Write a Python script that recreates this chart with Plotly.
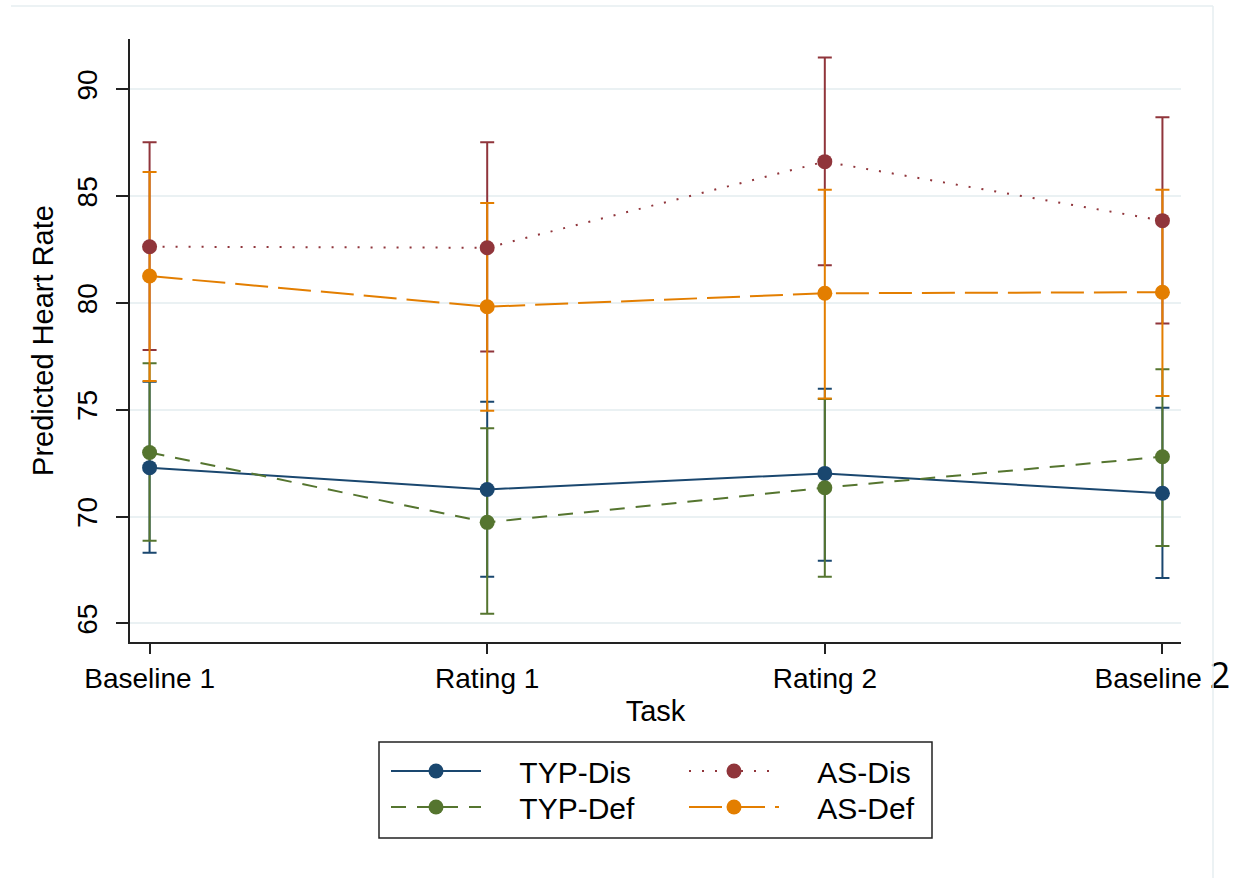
import plotly.graph_objects as go

tasks = ["Baseline 1", "Rating 1", "Rating 2", "Baseline 2"]
tick_text = ["Baseline 1", "Rating 1", "Rating 2",
             "Baseline <span style='font-family:Open Sans;font-size:36px'>2</span>"]
x_pos = [1, 2, 3, 4]

series_names = ["TYP-Dis", "TYP-Def", "AS-Dis", "AS-Def"]
typ_dis = [72.29, 71.27, 72.02, 71.09]
typ_dis_lo = [68.31, 67.18, 67.93, 67.13]
typ_dis_hi = [76.31, 75.37, 75.98, 75.09]
typ_def = [73.00, 69.73, 71.35, 72.80]
typ_def_lo = [68.87, 65.45, 67.18, 68.62]
typ_def_hi = [77.17, 74.13, 75.50, 76.89]
as_dis = [82.63, 82.58, 86.61, 83.85]
as_dis_lo = [77.80, 77.72, 81.76, 79.04]
as_dis_hi = [87.52, 87.52, 91.48, 88.69]
as_def = [81.26, 79.82, 80.45, 80.50]
as_def_lo = [76.34, 74.95, 75.53, 75.64]
as_def_hi = [86.13, 84.68, 85.30, 85.29]

y_ticks = [65, 70, 75, 80, 85, 90]

colors = ["#1a476f", "#55752f", "#90353b", "#e37e00"]
dashes = ["solid", "15px,11px", "2px,11px", "33px,10px"]
legend_ids = ["legend", "legend2", "legend3", "legend4"]
means = [typ_dis, typ_def, as_dis, as_def]
lows = [typ_dis_lo, typ_def_lo, as_dis_lo, as_def_lo]
highs = [typ_dis_hi, typ_def_hi, as_dis_hi, as_def_hi]

FONT = "Arial, Liberation Sans, sans-serif"
PAD = "\u00a0" * 4
fig = go.Figure()

# error bars first (drawn beneath all lines/markers)
for name, m, lo, hi, c in zip(series_names, means, lows, highs, colors):
    fig.add_trace(go.Scatter(
        x=x_pos, y=m, mode="markers",
        marker=dict(size=1, opacity=0, color=c),
        error_y=dict(type="data", symmetric=False,
                     array=[h - v for h, v in zip(hi, m)],
                     arrayminus=[v - l for v, l in zip(m, lo)],
                     color=c, thickness=2, width=7),
        showlegend=False, hoverinfo="skip"))

for name, m, c, d, lg in zip(series_names, means, colors, dashes, legend_ids):
    fig.add_trace(go.Scatter(
        x=x_pos, y=m, mode="lines+markers", name=PAD + name,
        line=dict(color=c, width=2, dash=d),
        marker=dict(color=c, size=15),
        legend=lg))

W, H = 1248, 878
L, R, T, B = 130, 1181, 39, 642
pw, ph = R - L, B - T

def px(xp):
    return (xp - L) / pw

def py(yp):
    return (B - yp) / ph

def leg(xl, yt):
    return dict(x=px(xl), y=py(yt), xanchor="left", yanchor="top",
                bgcolor="rgba(0,0,0,0)", font=dict(size=30), itemwidth=90)

fig.update_layout(
    width=W, height=H,
    margin=dict(l=L, r=W - R, t=T, b=H - B),
    paper_bgcolor="white", plot_bgcolor="white",
    font=dict(family=FONT, color="black", size=28),
    xaxis=dict(range=[0.942, 4.055], tickmode="array", tickvals=x_pos,
               ticktext=tick_text, showgrid=False, zeroline=False,
               showline=True, linecolor="#222222", linewidth=2,
               ticks="outside", ticklen=10, tickwidth=2, tickcolor="#222222",
               tickfont=dict(size=28),
               title=dict(text="Task", font=dict(size=29), standoff=3)),
    yaxis=dict(range=[64.13, 92.35], tickmode="array", tickvals=y_ticks,
               tickangle=-90, showgrid=True, gridcolor="#eaf1f3", gridwidth=2,
               zeroline=False, showline=True, linecolor="#222222", linewidth=2,
               ticks="outside", ticklen=12, tickwidth=2, tickcolor="#222222",
               tickfont=dict(size=28), ticklabelstandoff=8,
               title=dict(text="Predicted Heart Rate", font=dict(size=29),
                          standoff=10)),
    legend=leg(386, 745),
    legend2=leg(386, 781),
    legend3=leg(684, 745),
    legend4=leg(684, 781),
    shapes=[
        dict(type="rect", xref="paper", yref="paper",
             x0=px(379), x1=px(932), y0=py(742), y1=py(838),
             line=dict(color="#222222", width=1.5)),
        dict(type="line", xref="paper", yref="paper",
             x0=px(11), x1=px(1213), y0=py(6), y1=py(6),
             line=dict(color="#e6eef0", width=1.5)),
        dict(type="line", xref="paper", yref="paper",
             x0=px(1213), x1=px(1213), y0=py(6), y1=py(878),
             line=dict(color="#e6eef0", width=1.5)),
    ],
)

fig.write_html("out.html")
